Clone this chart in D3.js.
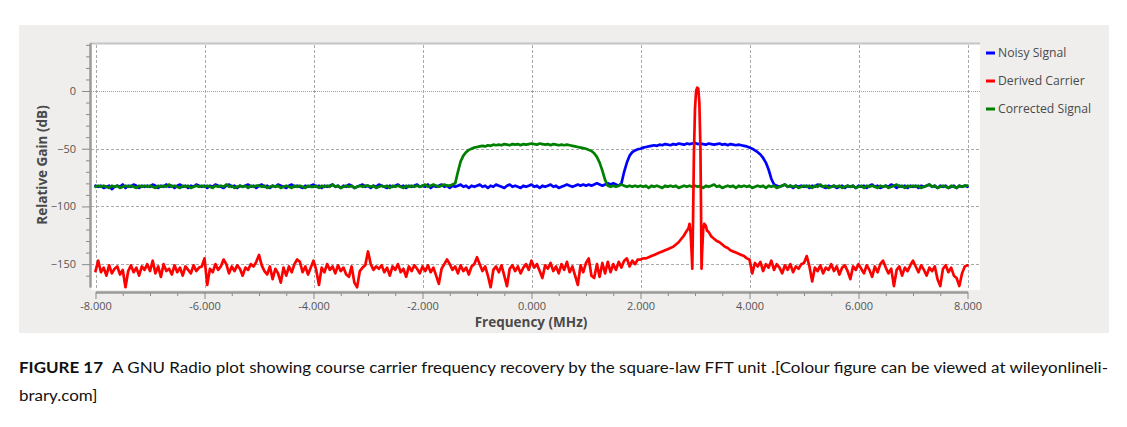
<!DOCTYPE html>
<html><head><meta charset="utf-8">
<script src="https://cdn.jsdelivr.net/npm/d3@7/dist/d3.min.js"></script>
<style>body{margin:0;background:#fff;}svg{display:block;}</style>
</head><body>
<svg id="chart" width="1127" height="427"></svg>
<script>
// ---------------- data ----------------
const freqStart = -8, freqStep = 0.05;   // FFT bin grid (MHz)
const xTicks = [-8, -6, -4, -2, 0, 2, 4, 6, 8];
const xTickLabels = ["-8.000", "-6.000", "-4.000", "-2.000", "0.000", "2.000", "4.000", "6.000", "8.000"];
const yTicks = [0, -50, -100, -150];
const yTickLabels = ["0", "\u221250", "\u2212100", "\u2212150"];
const seriesNames = ["Noisy Signal", "Derived Carrier", "Corrected Signal"];

const noisySignal = [
-82,-83,-82,-84,-83,-82,-85,-83,-82,-83,-81,-84,-82,-83,-81,-82,-84,-82,-83,-82,
-83,-81,-82,-84,-82,-83,-81,-83,-82,-84,-82,-81,-83,-82,-84,-82,-83,-81,-82,-83,
-82,-84,-82,-83,-81,-82,-83,-84,-82,-81,-83,-82,-84,-82,-83,-82,-81,-83,-82,-84,
-82,-81,-83,-82,-84,-82,-83,-81,-82,-83,-84,-82,-81,-83,-82,-83,-84,-82,-83,-82,
-81,-83,-82,-84,-82,-83,-82,-81,-83,-82,-84,-82,-83,-81,-82,-84,-83,-82,-81,-83,
-82,-84,-82,-83,-81,-82,-83,-84,-82,-83,-82,-81,-83,-82,-84,-82,-83,-82,-81,-83,
-82,-83,-81,-84,-82,-83,-82,-81,-83,-82,-84,-82,-83,-82,-81,-83,-82,-84,-82,-83,
-82,-81,-83,-82,-84,-82,-83,-81,-82,-83,-84,-82,-81,-83,-82,-83,-84,-82,-83,-82,
-81,-83,-82,-84,-82,-83,-82,-81,-83,-82,-84,-83,-82,-81,-82,-83,-82,-81,-82,-81,
-82,-81,-82,-81,-80,-81,-82,-81,-80,-81,-80,-81,-82,-80,-70,-62,-56,-53,-51.5,-50.5,
-50,-49,-48.5,-48,-47.5,-47,-47.5,-46.5,-47,-46,-46.5,-47,-46,-46.5,-45.5,-46,-46.5,-45.5,-46,-45.5,
-45,-46,-45.5,-46,-46.5,-45.5,-46,-46.5,-46,-45.5,-46.5,-46,-47,-46,-46.5,-47,-46.5,-47,-47.5,-48,
-49,-50,-51.5,-53,-55,-58,-62,-68,-76,-81,-82,-83,-82,-81,-83,-82,-84,-82,-83,-82,
-83,-82,-84,-82,-83,-81,-82,-83,-84,-82,-83,-82,-84,-83,-82,-84,-82,-83,-82,-84,
-82,-83,-82,-84,-82,-81,-83,-82,-84,-83,-82,-83,-81,-82,-84,-82,-83,-82,-84,-82,
-83,-82,-84,-82,-83,-82,-81,-83,-82,-84,-82,-83,-82,-84,-83,-82,-84,-82,-83,-82,
-83];

const derivedCarrier = [
-156,-147,-157,-153,-160,-151,-158,-154,-152,-159,-155,-170,-156,-151,-157,-153,-160,-152,-155,-150,
-156,-147,-158,-152,-161,-150,-156,-154,-159,-151,-157,-153,-160,-152,-155,-158,-151,-156,-153,-152,
-145,-168,-154,-157,-150,-155,-152,-146,-150,-158,-152,-156,-151,-154,-160,-153,-155,-150,-152,-148,
-142,-151,-156,-159,-152,-163,-154,-158,-166,-153,-160,-152,-157,-150,-146,-148,-157,-152,-159,-153,
-147,-155,-168,-153,-157,-150,-155,-152,-158,-151,-156,-153,-159,-161,-152,-166,-170,-156,-153,-151,
-139,-150,-155,-152,-154,-151,-157,-153,-160,-152,-155,-150,-157,-154,-161,-152,-156,-151,-154,-158,
-152,-156,-151,-157,-153,-160,-167,-154,-150,-146,-150,-155,-152,-158,-151,-156,-153,-159,-152,-150,
-144,-150,-156,-152,-160,-170,-155,-152,-157,-151,-160,-169,-154,-151,-156,-152,-158,-153,-150,-155,
-147,-153,-150,-156,-162,-151,-154,-149,-156,-152,-158,-150,-155,-148,-157,-152,-160,-168,-151,-157,
-149,-145,-160,-162,-150,-161,-149,-158,-148,-157,-150,-155,-148,-153,-147,-145,-152,-147,-150,-146,
-146,-145,-145,-144,-143,-142,-141,-140,-139,-138,-137,-136,-135,-133,-131,-128,-125,-121,-116,-155,
-30,2,-60,-155,-116,-122,-126,-128,-130,-131,-133,-135,-136,-138,-139,-140,-141,-142,-143,-145,
-146,-158,-149,-152,-148,-156,-150,-153,-147,-155,-150,-153,-158,-151,-155,-150,-157,-152,-154,-150,
-149,-143,-152,-165,-153,-156,-151,-158,-153,-155,-150,-156,-152,-159,-153,-151,-156,-163,-152,-155,
-150,-154,-158,-151,-155,-161,-152,-157,-150,-147,-153,-158,-154,-169,-155,-152,-160,-153,-156,-151,
-147,-152,-157,-151,-155,-160,-153,-156,-152,-163,-169,-154,-151,-157,-153,-160,-162,-169,-158,-152,
-151];

// finer readings around the recovered carrier (replace grid bins between 2.88 and 3.22 MHz)
const carrierFreq = [2.88, 2.90, 2.92, 2.94, 2.95, 2.965, 2.98, 3.00, 3.02, 3.04, 3.06, 3.08, 3.10, 3.11, 3.12, 3.13, 3.15, 3.17, 3.20, 3.22];
const carrierGain = [-119, -115, -123, -142, -154, -110, -55, -15, 0, 3, 2, -10, -50, -100, -154, -140, -120, -115, -117, -121];

const correctedSignal = [
-83,-82,-83,-82,-83,-84,-82,-83,-82,-84,-83,-82,-83,-82,-83,-84,-82,-83,-82,-83,
-82,-83,-84,-82,-83,-82,-83,-81,-83,-82,-83,-84,-82,-83,-82,-84,-83,-82,-83,-82,
-83,-82,-83,-84,-82,-83,-82,-83,-81,-83,-82,-84,-83,-82,-83,-82,-84,-82,-83,-82,
-82,-83,-82,-84,-83,-82,-83,-82,-84,-83,-82,-83,-84,-82,-83,-82,-83,-84,-82,-83,
-83,-82,-84,-82,-83,-82,-83,-81,-83,-82,-84,-83,-82,-83,-82,-84,-83,-82,-83,-82,
-82,-83,-82,-84,-83,-82,-83,-82,-84,-82,-83,-82,-83,-84,-82,-83,-82,-83,-82,-83,
-82,-81,-83,-82,-81,-82,-83,-82,-81,-82,-82,-81,-80,-70,-61,-56,-53,-51,-50,-49,
-48.5,-48,-47.5,-48,-47,-47.5,-46.5,-47,-46.5,-47,-46,-46.5,-47,-46,-46.5,-46,-47,-46,-46.5,-46,
-45.5,-46,-46.5,-45.5,-46,-46.5,-46,-47,-46,-46.5,-47,-46.5,-47,-46.5,-47,-47.5,-48,-48.5,-49,-49.5,
-50,-51,-52,-54,-57,-62,-69,-77,-82,-83,-82,-83,-82,-81,-82,-83,-82,-83,-82,-83,
-82,-83,-82,-84,-82,-83,-82,-83,-84,-82,-83,-82,-83,-82,-84,-83,-82,-83,-82,-83,
-82,-83,-82,-84,-82,-83,-82,-81,-83,-82,-84,-83,-82,-83,-82,-84,-82,-83,-82,-83,
-82,-84,-83,-82,-83,-82,-84,-82,-83,-82,-84,-83,-82,-81,-83,-82,-83,-82,-84,-83,
-82,-83,-82,-84,-82,-83,-81,-83,-82,-84,-83,-82,-83,-82,-84,-83,-82,-83,-82,-84,
-83,-82,-84,-82,-83,-82,-83,-84,-82,-83,-82,-84,-83,-82,-81,-83,-82,-84,-82,-83,
-82,-83,-82,-84,-83,-82,-81,-83,-82,-84,-83,-82,-83,-84,-82,-83,-84,-82,-83,-82,
-82];

const captionLabel = "FIGURE 17";
const captionLine1 = "A GNU Radio plot showing course carrier frequency recovery by the square-law FFT unit .[Colour figure can be viewed at wileyonlineli-";
const captionLine2 = "brary.com]";

// ---------------- styles ----------------
const seriesColors = ["#0000ff", "#ff0000", "#008000"];
const panelFill = "#efeeec";
const textColor = "#555555";
const gridColor = "#aaaaaa";

// ---------------- build ----------------
const svg = d3.select("#chart");
const plot = {left: 91, right: 980, top: 43, bottom: 290};

const x = d3.scaleLinear().domain([-8, 8]).range([95.5, 967.5]);
const y = d3.scaleLinear().domain([41.6, -169.8]).range([43, 287]);

const gridPts = vals => vals.map((v, i) => ({f: freqStart + i * freqStep, v}));
const bluePts = gridPts(noisySignal);
const greenPts = gridPts(correctedSignal);
const redPts = gridPts(derivedCarrier)
  .filter(d => d.f < carrierFreq[0] - 1e-6 || d.f > carrierFreq[carrierFreq.length - 1] + 1e-6)
  .concat(carrierFreq.map((f, i) => ({f, v: carrierGain[i]})))
  .sort((a, b) => a.f - b.f);

// panel background
svg.append("rect").attr("x", 19).attr("y", 25).attr("width", 1090).attr("height", 308).attr("fill", panelFill);
// canvas
svg.append("rect").attr("x", plot.left).attr("y", plot.top).attr("width", plot.right - plot.left)
  .attr("height", plot.bottom - plot.top).attr("fill", "#ffffff");
svg.append("line").attr("x1", plot.left - 1).attr("x2", plot.right).attr("y1", plot.top + 0.5).attr("y2", plot.top + 0.5)
  .attr("stroke", "#c4c4c4").attr("stroke-width", 2);

// grid
const grid = svg.append("g");
grid.selectAll("line.vx").data(xTicks).join("line")
  .attr("x1", d => Math.round(x(d)) + 0.5).attr("x2", d => Math.round(x(d)) + 0.5)
  .attr("y1", plot.top + 2).attr("y2", plot.bottom)
  .attr("stroke", gridColor).attr("stroke-width", 1).attr("stroke-dasharray", "3,2");
grid.selectAll("line.hy").data(yTicks.filter(d => d !== 0)).join("line")
  .attr("x1", plot.left).attr("x2", plot.right)
  .attr("y1", d => Math.round(y(d)) + 0.5).attr("y2", d => Math.round(y(d)) + 0.5)
  .attr("stroke", gridColor).attr("stroke-width", 1).attr("stroke-dasharray", "3,2");
// zero reference (cyan dotted)
svg.append("line").attr("x1", plot.left).attr("x2", plot.right)
  .attr("y1", Math.round(y(0)) + 0.5).attr("y2", Math.round(y(0)) + 0.5)
  .attr("stroke", "#45c6d2").attr("stroke-width", 1).attr("stroke-dasharray", "1,1");

// curves
const line = d3.line().x(d => x(d.f)).y(d => y(d.v));
const curves = svg.append("g").attr("fill", "none").attr("stroke-linejoin", "round").attr("stroke-linecap", "round");
[[bluePts, 0], [greenPts, 2], [redPts, 1]].forEach(([pts, k]) => {
  curves.append("path").datum(pts).attr("d", line)
    .attr("stroke", seriesColors[k]).attr("stroke-width", 2.7);
});

// axes
const font = "'Open Sans', 'DejaVu Sans', sans-serif";
const xMinor = d3.range(-8, 8.001, 0.5).filter(v => Math.abs(v % 2) > 1e-6);
const yMinor = d3.range(40, -170, -10).filter(v => v % 50 !== 0);

const gx = svg.append("g").attr("transform", "translate(0,292)");
gx.call(d3.axisBottom(x).tickValues(xMinor).tickSize(4).tickSizeOuter(0).tickFormat(""));
gx.call(g => g.append("g").call(d3.axisBottom(x).tickValues(xTicks).tickSize(7).tickSizeOuter(0)
  .tickFormat((d, i) => xTickLabels[i])));
gx.selectAll("path.domain").attr("stroke", "#9a9a9a").attr("stroke-width", 2);
gx.selectAll(".tick line").attr("stroke", "#8a8a8a");
gx.selectAll("text").attr("font-family", font).attr("font-size", 11).attr("fill", textColor).attr("y", 10);

const gy = svg.append("g").attr("transform", "translate(90,0)");
gy.call(d3.axisLeft(y).tickValues(yMinor).tickSize(4).tickSizeOuter(0).tickFormat(""));
gy.call(g => g.append("g").call(d3.axisLeft(y).tickValues(yTicks).tickSize(8).tickSizeOuter(0)
  .tickFormat((d, i) => yTickLabels[i])));
gy.selectAll("path.domain").attr("stroke", "#9a9a9a").attr("stroke-width", 2);
gy.selectAll(".tick line").attr("stroke", "#8a8a8a");
gy.selectAll("text").attr("font-family", font).attr("font-size", 11).attr("fill", textColor).attr("x", -14);

// axis titles
svg.append("text").attr("x", 531).attr("y", 327).attr("text-anchor", "middle")
  .attr("font-family", font).attr("font-weight", "bold").attr("font-size", 13.5).attr("fill", "#4a4a4a")
  .text("Frequency (MHz)");
svg.append("text").attr("transform", "translate(47,165) rotate(-90)").attr("text-anchor", "middle")
  .attr("font-family", font).attr("font-weight", "bold").attr("font-size", 13.5).attr("fill", "#4a4a4a")
  .text("Relative Gain (dB)");

// legend
const leg = svg.append("g");
seriesNames.forEach((name, i) => {
  const cy = 53 + i * 28;
  leg.append("rect").attr("x", 986).attr("y", cy - 1.5).attr("width", 9).attr("height", 3).attr("fill", seriesColors[i]);
  leg.append("text").attr("x", 998).attr("y", cy + 4).attr("font-family", font).attr("font-size", 12.2)
    .attr("fill", "#4a4a4a").text(name);
});

// caption
const capFont = "Lato, 'Open Sans', sans-serif";
const lab = svg.append("text").attr("x", 19).attr("y", 373).attr("font-family", capFont)
  .attr("font-weight", "bold").attr("font-size", 15.5).attr("fill", "#111").text(captionLabel);
lab.attr("textLength", 84).attr("lengthAdjust", "spacingAndGlyphs");
const l1 = svg.append("text").attr("x", 112).attr("y", 373).attr("font-family", capFont)
  .attr("font-size", 15.5).attr("fill", "#111").text(captionLine1);
const l1W = l1.node().getComputedTextLength();
const ratio = 996 / l1W;
l1.attr("textLength", 996).attr("lengthAdjust", "spacingAndGlyphs");
const l2 = svg.append("text").attr("x", 19).attr("y", 401).attr("font-family", capFont)
  .attr("font-size", 15.5).attr("fill", "#111").text(captionLine2);
const l2W = l2.node().getComputedTextLength();
l2.attr("textLength", l2W * ratio).attr("lengthAdjust", "spacingAndGlyphs");
</script>
</body></html>
